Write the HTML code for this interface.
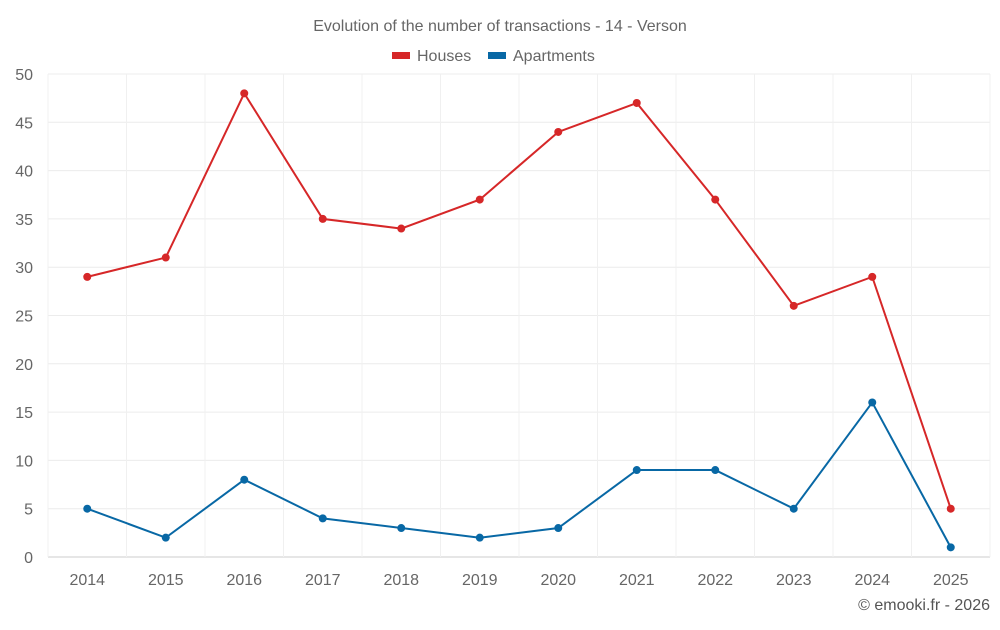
<!DOCTYPE html>
<html><head><meta charset="utf-8"><style>
body{margin:0;background:#fff;font-family:"Liberation Sans",sans-serif;}
svg text{font-family:"Liberation Sans",sans-serif;}
</style></head><body>
<svg id="chart" width="1000" height="625">
<text x="500" y="31" text-anchor="middle" font-size="16" fill="#666">Evolution of the number of transactions - 14 - Verson</text>
<g>
<g><rect x="392" y="52" width="18" height="7" fill="#d62728"/><text x="417" y="61" font-size="16" fill="#666">Houses</text></g>
<g><rect x="488" y="52" width="18" height="7" fill="#0868a5"/><text x="513" y="61" font-size="16" fill="#666">Apartments</text></g>
</g>
<g id="grid"></g><g id="axes"></g><g id="series"></g>
<text x="990" y="610" text-anchor="end" font-size="16" fill="#555">© emooki.fr - 2026</text>
</svg>
<script>
const years=["2014","2015","2016","2017","2018","2019","2020","2021","2022","2023","2024","2025"];
const houses=[29,31,48,35,34,37,44,47,37,26,29,5];
const apartments=[5,2,8,4,3,2,3,9,9,5,16,1];
const yTicks=[0,5,10,15,20,25,30,35,40,45,50];
const NS="http://www.w3.org/2000/svg";
const L=48,R=990,T=74,B=557;
const step=(R-L)/years.length;
const x=i=>L+step*(i+0.5);
const y=v=>B-(v/50)*(B-T);
function el(tag,attrs,parent){const e=document.createElementNS(NS,tag);for(const k in attrs)e.setAttribute(k,attrs[k]);parent.appendChild(e);return e;}
const grid=document.getElementById('grid'),axes=document.getElementById('axes'),series=document.getElementById('series');
yTicks.forEach(t=>{
 const g=el('line',{x1:L,x2:R,y1:y(t),y2:y(t),stroke:t===0?'#ccc':'#ececec'},grid);
 
 
 const tx=el('text',{x:33,y:y(t)+6,'text-anchor':'end','font-size':16,fill:'#666'},axes);
 tx.textContent=t;
 
 
});
for(let i=0;i<=years.length;i++){
 const g=el('line',{x1:L+step*i,x2:L+step*i,y1:T,y2:B,stroke:'#f0f0f0'},grid);
 
 
}
years.forEach((yr,i)=>{
 const tx=el('text',{x:x(i),y:585,'text-anchor':'middle','font-size':16,fill:'#666'},axes);
 tx.textContent=yr;
 
 
});
function draw(data,color,name){
 const p=el('polyline',{points:data.map((v,i)=>x(i)+','+y(v)).join(' '),fill:'none',stroke:color,'stroke-width':2},series);
 
 
 data.forEach((v,i)=>{
  const c=el('circle',{cx:x(i),cy:y(v),r:4,fill:color},series);
  
  
 });
}
draw(houses,'#d62728','houses');
draw(apartments,'#0868a5','apartments');
</script>
</body></html>
